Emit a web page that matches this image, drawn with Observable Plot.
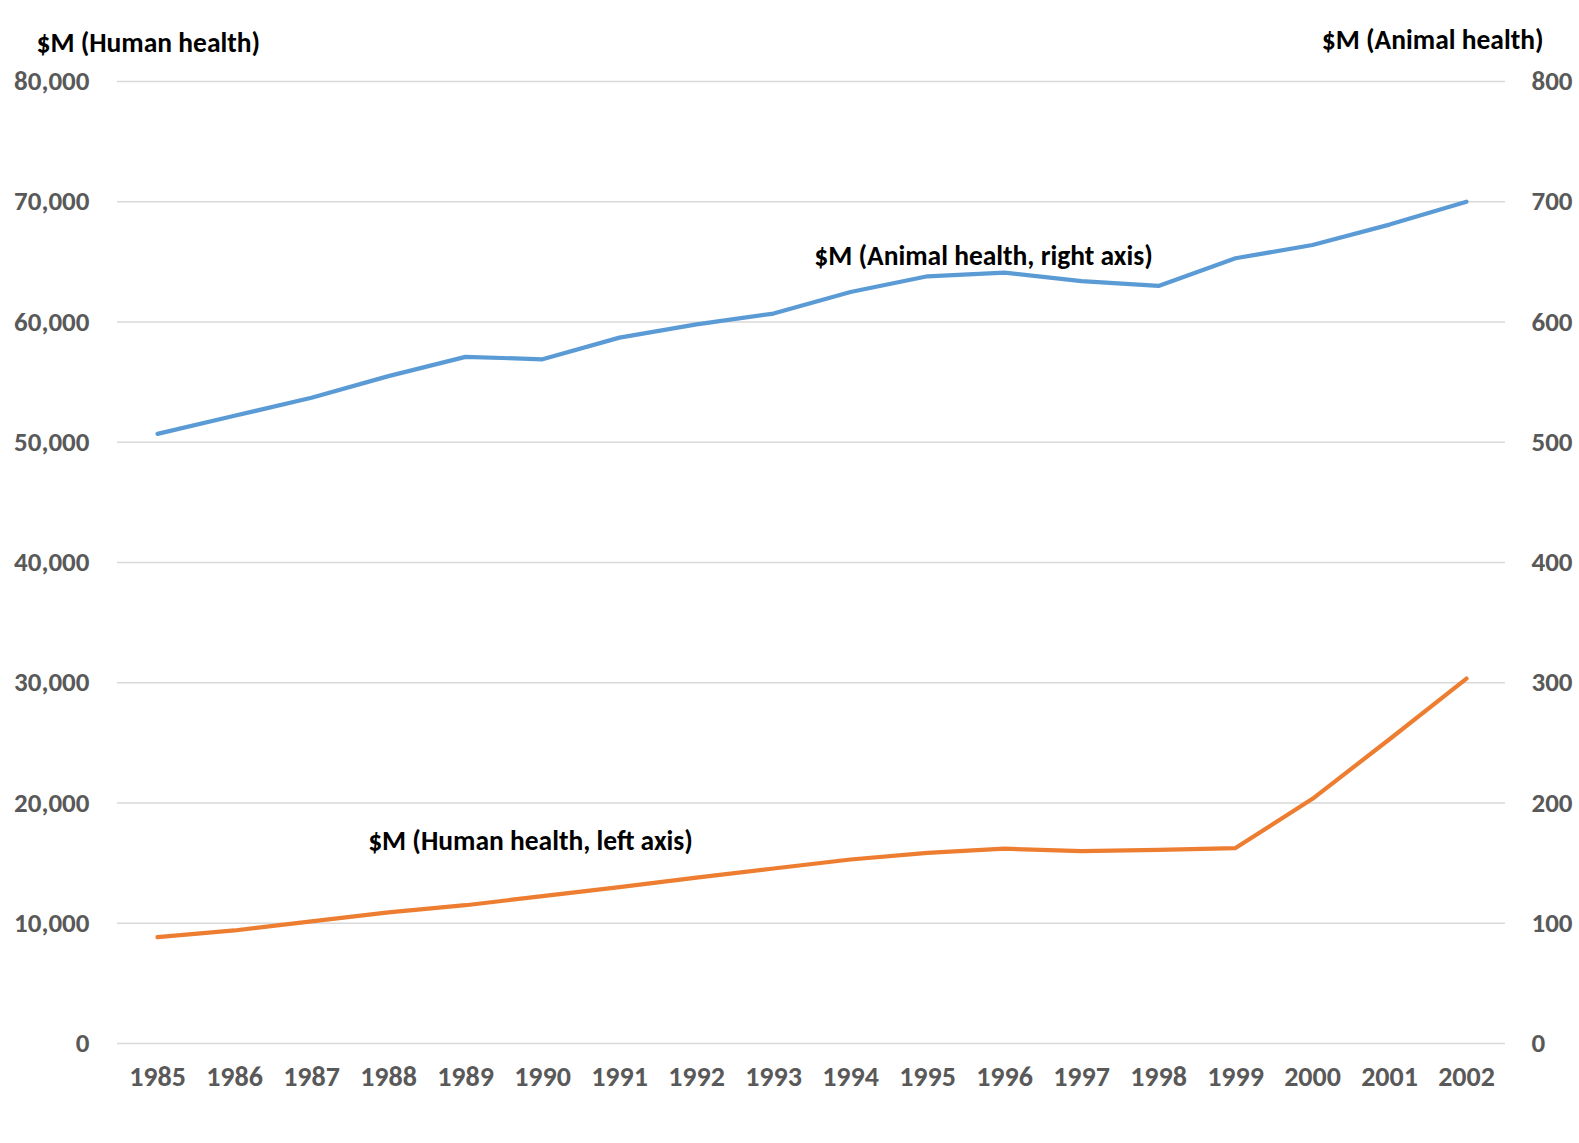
<!DOCTYPE html>
<html>
<head>
<meta charset="utf-8">
<script src="https://cdn.jsdelivr.net/npm/d3@7"></script>
<script src="https://cdn.jsdelivr.net/npm/@observablehq/plot@0.6"></script>
<style>
  html, body { margin: 0; padding: 0; background: #fff; }
  #chart { width: 1579px; height: 1143px; }
</style>
</head>
<body>
<div id="chart"></div>
<script>
const years = [1985, 1986, 1987, 1988, 1989, 1990, 1991, 1992, 1993, 1994, 1995, 1996, 1997, 1998, 1999, 2000, 2001, 2002];
// $M, human health (left axis)
const humanHealth = [8840, 9400, 10150, 10900, 11500, 12250, 13000, 13800, 14550, 15300, 15850, 16200, 16000, 16100, 16250, 20350, 25300, 30350];
// $M, animal health (right axis)
const animalHealth = [507, 522, 537, 555, 571, 569, 587, 598, 607, 625, 638, 641, 634, 630, 653, 664, 681, 700];
const leftTicks = [0, 10000, 20000, 30000, 40000, 50000, 60000, 70000, 80000];
const rightTicks = [0, 100, 200, 300, 400, 500, 600, 700, 800];
const ratio = 100; // right axis value * ratio = left axis value

const humanRows = years.map((y, i) => ({year: y, value: humanHealth[i]}));
const animalRows = years.map((y, i) => ({year: y, value: animalHealth[i]}));

const font = "Carlito, Calibri, 'Liberation Sans Narrow', 'DejaVu Sans Condensed', Roboto, sans-serif";
const fmt = d3.format(",");

const chart = Plot.plot({
  width: 1579,
  height: 1143,
  marginTop: 81,
  marginBottom: 100,
  marginLeft: 117,
  marginRight: 74,
  style: {fontFamily: font, background: "#fff"},
  x: {type: "point", domain: years, padding: 0.5},
  y: {domain: [0, 80000]},
  marks: [
    Plot.gridY(leftTicks, {stroke: "#d9d9d9", strokeOpacity: 1, strokeWidth: 1.3}),
    Plot.axisY(leftTicks, {anchor: "left", tickSize: 0, tickPadding: 28, tickFormat: fmt, fontSize: 27, fontWeight: 600, color: "#595959", label: null}),
    Plot.axisY(rightTicks.map(d => d * ratio), {anchor: "right", tickSize: 0, tickPadding: 26, tickFormat: d => fmt(d / ratio), fontSize: 27, fontWeight: 600, color: "#595959", label: null}),
    Plot.axisX(years, {anchor: "bottom", tickSize: 0, tickPadding: 23, tickFormat: d => String(d), fontSize: 28, fontWeight: 600, color: "#595959", label: null}),
    Plot.lineY(humanRows, {x: "year", y: "value", stroke: "#ed7d31", strokeWidth: 4.2, strokeLinecap: "round", strokeLinejoin: "round"}),
    Plot.lineY(animalRows, {x: "year", y: d => d.value * ratio, stroke: "#5b9bd5", strokeWidth: 4.2, strokeLinecap: "round", strokeLinejoin: "round"}),
    Plot.text(["$M (Human health)"], {text: d => d, frameAnchor: "top-left", dx: -81, dy: -38, textAnchor: "start", lineAnchor: "middle", fontSize: 27.5, fontWeight: "bold", fill: "#000"}),
    Plot.text(["$M (Animal health)"], {text: d => d, frameAnchor: "top-right", dx: 38, dy: -41, textAnchor: "end", lineAnchor: "middle", fontSize: 27.5, fontWeight: "bold", fill: "#000"}),
    Plot.text([{year: 1996, v: 65450, label: "$M (Animal health, right axis)"}], {x: "year", y: "v", text: "label", dx: -21, textAnchor: "middle", lineAnchor: "middle", fontSize: 27.5, fontWeight: "bold", fill: "#000"}),
    Plot.text([{year: 1990, v: 16800, label: "$M (Human health, left axis)"}], {x: "year", y: "v", text: "label", dx: -12, textAnchor: "middle", lineAnchor: "middle", fontSize: 27.5, fontWeight: "bold", fill: "#000"})
  ]
});
document.getElementById("chart").appendChild(chart);
</script>
</body>
</html>
